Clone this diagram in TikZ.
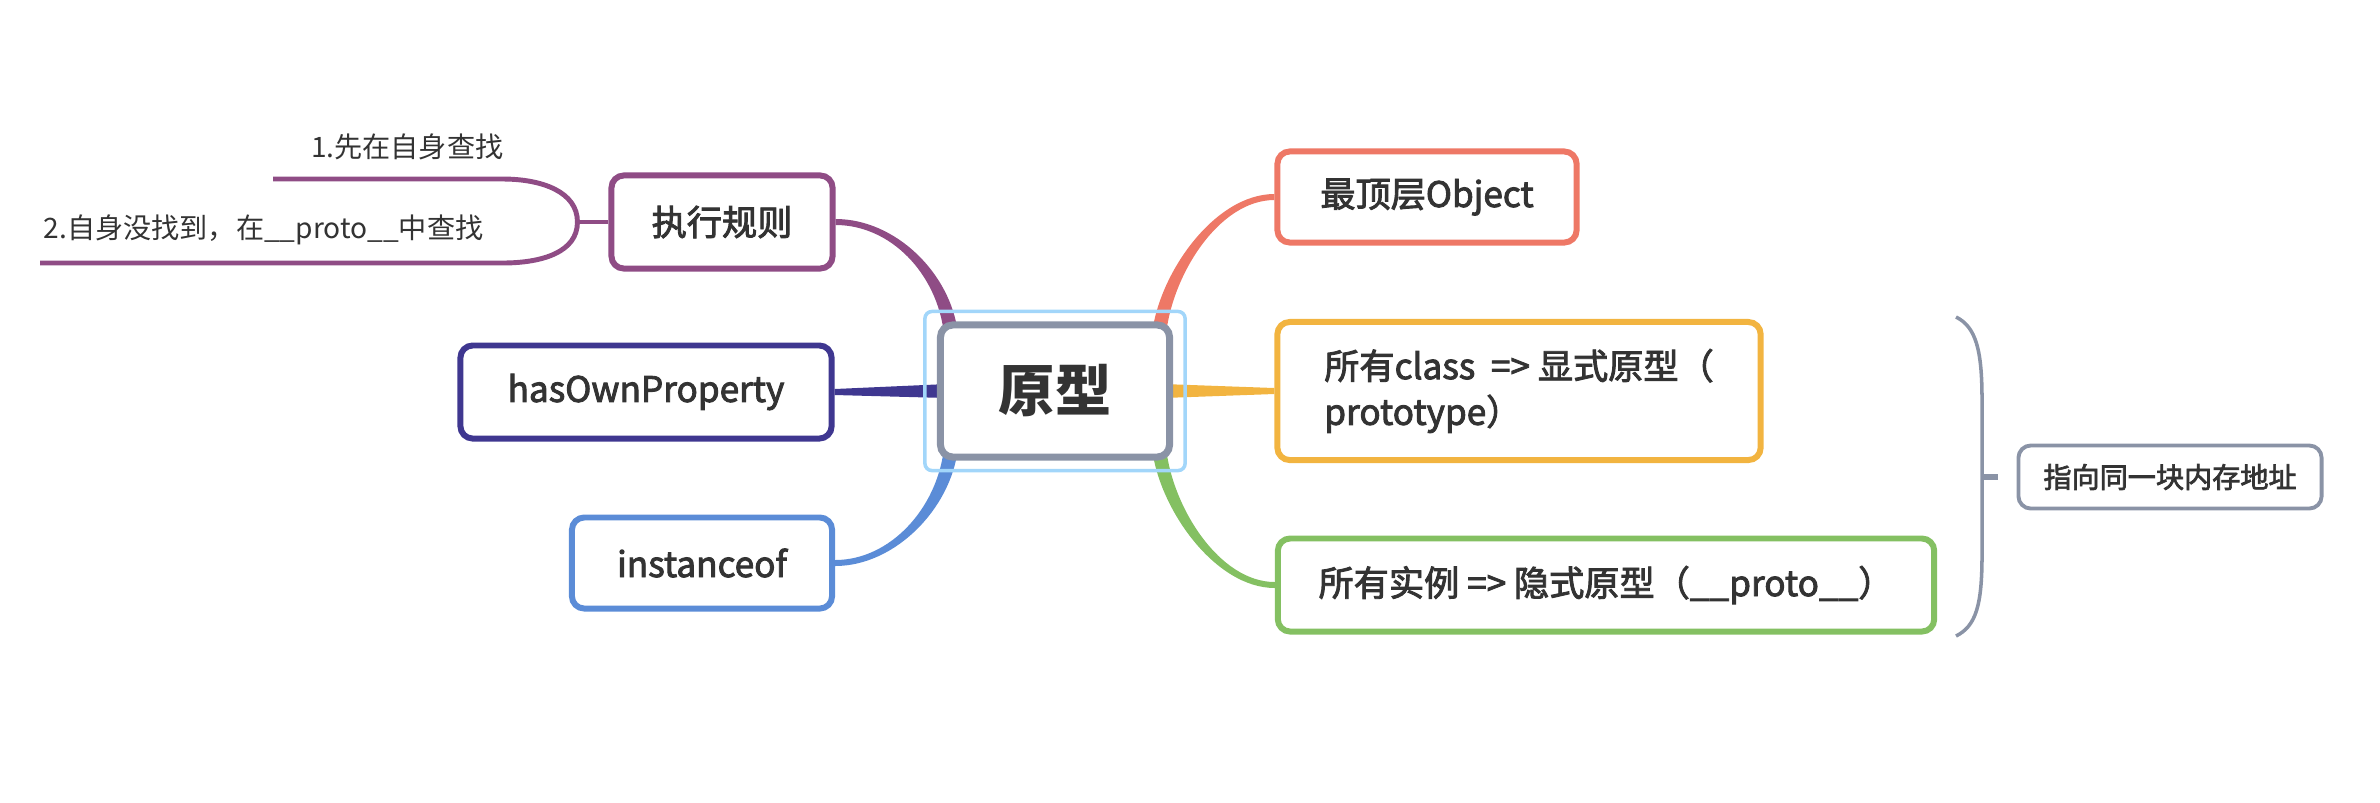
\documentclass[tikz,border=0pt]{standalone}
\usepackage{fontspec}
\setmainfont{Noto Sans CJK SC}
\newfontfamily\topicfont[FakeBold=2.5]{Noto Sans CJK SC}
\usepackage{xcolor}
\usetikzlibrary{calc,backgrounds}

\definecolor{rootgray}{HTML}{8A93A6}
\definecolor{selblue}{HTML}{A2D6FA}
\definecolor{rulepurple}{HTML}{8F4C85}
\definecolor{owndark}{HTML}{3F3790}
\definecolor{instblue}{HTML}{5B8CD7}
\definecolor{topred}{HTML}{EE7866}
\definecolor{clsorange}{HTML}{F2B440}
\definecolor{objgreen}{HTML}{84C062}
\definecolor{textgray}{HTML}{333333}

\tikzset{
  topic/.style={draw, line width=1.7pt, rounded corners=3.5pt, fill=white,
    text=textgray, inner sep=0pt, font=\fontsize{10}{13}\topicfont},
  leaf/.style={text=textgray, inner sep=0pt, font=\fontsize{8}{10}\selectfont},
  twig/.style={rulepurple, line width=1.4pt}
}

\begin{document}
\begin{tikzpicture}[x=0.01cm, y=-0.01cm]
    \useasboundingbox (0,0) rectangle (2380,802);

    \node[topic, draw=rootgray, line width=2pt, minimum width=2.29cm, minimum height=1.32cm,
      font=\fontsize{16}{18}\selectfont\bfseries] (root) at (1055,391) {原型};

    \node[topic, draw=rulepurple, minimum width=2.21cm, minimum height=0.93cm] (rule) at (722,222) {执行规则};
    \node[topic, draw=owndark, minimum width=3.71cm, minimum height=0.93cm] (own) at (646,392) {hasOwnProperty};
    \node[topic, draw=instblue, minimum width=2.60cm, minimum height=0.91cm] (inst) at (702,563) {instanceof};

    \node[topic, draw=topred, minimum width=2.99cm, minimum height=0.91cm] (top) at (1427,197) {最顶层Object};
    \node[topic, draw=clsorange, minimum width=4.83cm, minimum height=1.38cm, align=left] (cls) at (1519,391)
      {所有class\ \ => 显式原型（\\prototype）};
    \node[topic, draw=objgreen, minimum width=6.56cm, minimum height=0.93cm] (obj) at (1606,585)
      {所有实例 => 隐式原型（\_\_proto\_\_）};

    \node[topic, draw=rootgray, line width=1.1pt, minimum width=3.03cm, minimum height=0.63cm,
      font=\fontsize{8}{10}\topicfont] (addr) at (2170,477) {指向同一块内存地址};

    \node[leaf, anchor=east] (step1) at (504,147) {1.先在自身查找};
    \node[leaf, anchor=east] (step2) at (484,230) {2.自身没找到，在\_\_proto\_\_中查找};

    \draw[selblue, line width=1pt, rounded corners=2pt]
      ($(root.south west)+(-12,10)$) rectangle ($(root.north east)+(12,-10)$);

    \begin{scope}[on background layer]
    \fill[rulepurple] ($(rule.east)+(0,-3)$) .. controls +(60,0) and +(-7,-60) .. ($(root.north west)+(21,12)$)
      -- ($(root.north west)+(7,12)$) .. controls +(-7,-60) and +(55,0) .. ($(rule.east)+(0,3)$) -- cycle;
    \fill[owndark] ($(own.east)+(0,-3)$) -- ($(root.west)+(10,-7)$) -- ($(root.west)+(10,7)$)
      -- ($(own.east)+(0,3)$) -- cycle;
    \fill[instblue] ($(inst.east)+(0,3)$) .. controls +(60,0) and +(-7,60) .. ($(root.south west)+(21,-12)$)
      -- ($(root.south west)+(7,-12)$) .. controls +(-7,60) and +(55,0) .. ($(inst.east)+(0,-3)$) -- cycle;
    \fill[topred] ($(top.west)+(0,-3)$) .. controls +(-60,0) and +(7,-60) .. ($(root.north east)+(-21,12)$)
      -- ($(root.north east)+(-7,12)$) .. controls +(7,-60) and +(-55,0) .. ($(top.west)+(0,3)$) -- cycle;
    \fill[clsorange] ($(root.east)+(-10,-7)$) -- ($(cls.west)+(0,-3)$) -- ($(cls.west)+(0,3)$)
      -- ($(root.east)+(-10,7)$) -- cycle;
    \fill[objgreen] ($(obj.west)+(0,3)$) .. controls +(-60,0) and +(7,60) .. ($(root.south east)+(-21,-12)$)
      -- ($(root.south east)+(-7,-12)$) .. controls +(7,60) and +(-55,0) .. ($(obj.west)+(0,-3)$) -- cycle;
    \end{scope}

    \coordinate (fork) at ($(rule.west)+(-31,0)$);
    \coordinate (end1) at (273,179);
    \coordinate (end2) at (40,263);
    \draw[twig] (rule.west) -- (fork);
    \draw[twig] (fork) .. controls +(0,-30) and +(40,0) .. ($(fork |- end1)+(-75,0)$) -- (end1);
    \draw[twig] (fork) .. controls +(0,30) and +(40,0) .. ($(fork |- end2)+(-75,0)$) -- (end2);

    \coordinate (btop) at (1956,317);
    \coordinate (bbot) at (1956,636);
    \coordinate (bmid) at (1982,477);
    \coordinate (sum) at (1998,477);
    \draw[rootgray, line width=1pt] (btop) .. controls +(20,10) and +(0,-50) .. ($(bmid)+(0,-77)$)
      -- ($(bmid)+(0,78)$) .. controls +(0,50) and +(20,-10) .. (bbot);
    \draw[rootgray, line width=1.5pt] (bmid) -- (sum);
\end{tikzpicture}
\end{document}
